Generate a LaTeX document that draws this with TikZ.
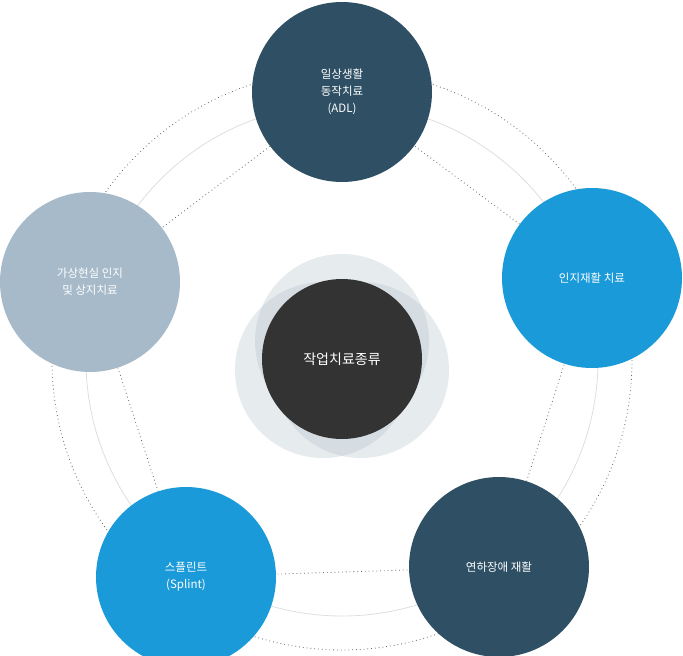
\documentclass[tikz,border=0pt]{standalone}
\usepackage{fontspec}
\newfontfamily\kr{Noto Sans CJK KR}
\definecolor{navy}{HTML}{2F5064}
\definecolor{sky}{HTML}{1A9AD8}
\definecolor{pale}{HTML}{A6BACA}
\definecolor{coal}{HTML}{333333}
\definecolor{mist}{HTML}{B4C1CA}
\tikzset{
 big/.style={circle,minimum size=180pt,inner sep=0pt,text=white,align=center,font=\kr\fontsize{11.5pt}{17pt}\selectfont},
 dots/.style={draw=black!60,line width=0.8pt,dash pattern=on 0.8pt off 3pt},
 veil/.style={fill=mist,fill opacity=0.33}
}
\begin{document}
\begin{tikzpicture}[x=1pt,y=-1pt]
\useasboundingbox (0,0) rectangle (683,656);
\coordinate (c) at (342,360);
\coordinate (pt) at (342,92);
\coordinate (pr) at (592,278);
\coordinate (pbr) at (499,567);
\coordinate (pbl) at (186,577);
\coordinate (pl) at (90,282);
\draw[dots] (c) circle[radius=290];
\draw[black!13,line width=0.8pt] (c) circle[radius=256];
\draw[dots] (pt) -- (pr) -- (pbr) -- (pbl) -- (pl) -- (pt);
\node[big,fill=navy] (t) at (pt) {일상생활\\동작치료\\(ADL)};
\node[big,fill=sky] (r) at (pr) {인지재활 치료};
\node[big,fill=navy] (br) at (pbr) {연하장애 재활};
\node[big,fill=sky] (bl) at (pbl) {스플린트\\(Splint)};
\node[big,fill=pale] (l) at (pl) {가상현실 인지\\및 상지치료};
\fill[veil] (342,341) circle[radius=87];
\fill[veil] (323,370) circle[radius=88];
\fill[veil] (361,370) circle[radius=88];
\node[circle,fill=coal,minimum size=160pt,inner sep=0pt,text=white,font=\kr\fontsize{14pt}{18pt}\selectfont] (m) at (342,359) {작업치료종류};
\end{tikzpicture}
\end{document}
